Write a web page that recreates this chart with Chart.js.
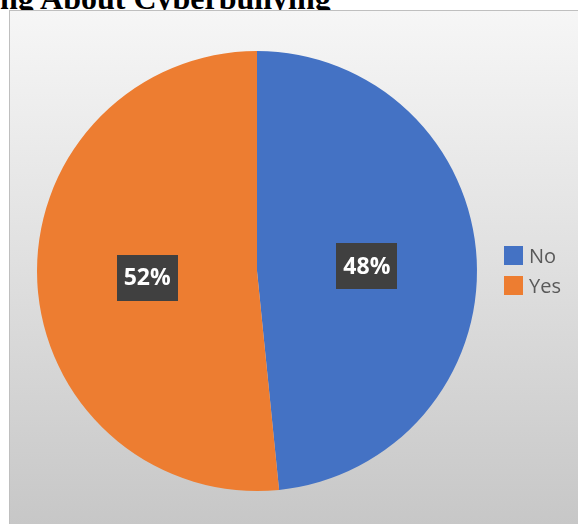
<!DOCTYPE html>
<html>
<head>
<meta charset="utf-8">
<script src="https://cdn.jsdelivr.net/npm/chart.js@4"></script>
<style>
  html, body { margin: 0; padding: 0; background: #ffffff; }
  #wrap { position: relative; width: 578px; height: 524px; overflow: hidden; }
  .title {
    position: absolute; left: 0px; top: -18px; white-space: nowrap;
    font-family: "Liberation Serif", "Times New Roman", serif;
    font-weight: bold; font-size: 32px; line-height: 32px; color: #000;
  }
  .box {
    position: absolute; left: 9px; top: 10px; width: 600px; height: 514px;
    border: 1px solid #bfbfbf;
    background: linear-gradient(to bottom, #f6f6f6 0%, #e4e4e4 40%, #c7c7c7 100%);
  }
  #chart { position: absolute; left: 0; top: 0; }
  .legend { position: absolute; left: 504px; top: 246px; font-family: "Open Sans", sans-serif; font-size: 20px; color: #595959; }
  .legend div { height: 30px; line-height: 20px; white-space: nowrap; }
  .legend span.sw { display: inline-block; width: 19px; height: 19px; vertical-align: top; margin-right: 6px; }
</style>
</head>
<body>
<div id="wrap">
  <div class="title">ng About Cyberbullying</div>
  <div class="box"></div>
  <canvas id="chart" width="578" height="524"></canvas>
  <div class="legend" id="legend"></div>
</div>
<script>
// data
const categories = ["No", "Yes"];
const shareValues = [48.4, 51.6];   // slice sizes as drawn (labels are rounded)
const sliceColors = ["#4472c4", "#ed7d31"];

// legend (html)
const legendEl = document.getElementById("legend");
categories.forEach((name, i) => {
  const row = document.createElement("div");
  row.innerHTML = '<span class="sw" style="background:' + sliceColors[i] + '"></span>' + name;
  legendEl.appendChild(row);
});

// boxed percentage labels inside slices
const boxLabels = {
  id: "boxLabels",
  afterDatasetsDraw(chart) {
    const ctx = chart.ctx;
    const meta = chart.getDatasetMeta(0);
    ctx.save();
    ctx.font = "bold 23px 'Open Sans', sans-serif";
    ctx.textAlign = "center";
    ctx.textBaseline = "middle";
    meta.data.forEach((arc, i) => {
      const pos = arc.tooltipPosition();
      const text = Math.round(shareValues[i]) + "%";
      const w = 61, h = 46;
      ctx.fillStyle = "#404040";
      ctx.fillRect(Math.round(pos.x - w / 2), Math.round(pos.y - h / 2) + 1, w, h);
      ctx.fillStyle = "#ffffff";
      ctx.fillText(text, pos.x, pos.y + 2);
    });
    ctx.restore();
  }
};

let pieChart = new Chart(document.getElementById("chart").getContext("2d"), {
  type: "pie",
  data: {
    labels: categories,
    datasets: [
      {
        data: shareValues,
        backgroundColor: sliceColors,
        borderWidth: 0,
      },
    ],
  },
  options: {
    responsive: false,
    animation: false,
    layout: { padding: { left: 37, top: 51, right: 101, bottom: 33 } },
    plugins: {
      legend: { display: false },
      tooltip: { enabled: false },
    },
  },
  plugins: [boxLabels],
});
</script>
</body>
</html>
